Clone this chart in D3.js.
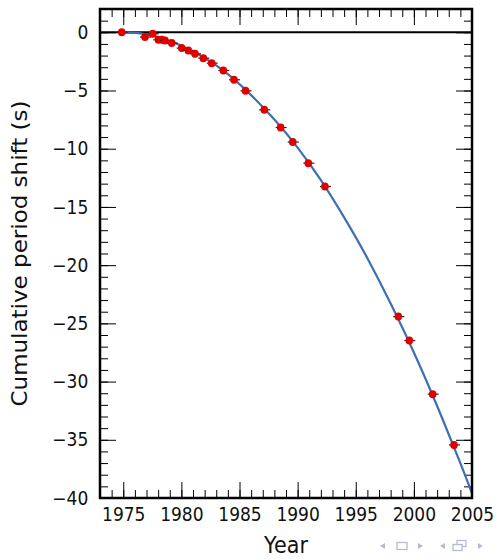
<!DOCTYPE html>
<html>
<head>
<meta charset="utf-8">
<script src="https://cdn.jsdelivr.net/npm/d3@7"></script>
<style>
  body { margin: 0; background: #fff; }
  text { font-family: "DejaVu Sans", sans-serif; fill: #111; }
</style>
</head>
<body>
<div id="chart"></div>
<script>
// GR prediction curve
var curveYears = [1974.8, 1976, 1977, 1978, 1979, 1980, 1982, 1984, 1986, 1988, 1990, 1992, 1994, 1996, 1998, 2000, 2002, 2004, 2005];
var curveShift = [0.0, -0.05, -0.18, -0.42, -0.75, -1.15, -2.2, -3.6, -5.4, -7.5, -9.9, -12.7, -15.9, -19.4, -23.3, -27.5, -32.1, -37.0, -39.6];
// observed points
var obsYears = [1974.87, 1976.87, 1977.53, 1978.02, 1978.31, 1978.59, 1979.17, 1980.03, 1980.60, 1981.17, 1981.89, 1982.61, 1983.61, 1984.53, 1985.52, 1987.13, 1988.54, 1989.58, 1990.92, 1992.35, 1998.66, 1999.61, 2001.62, 2003.45];
var obsShift = [0.0, -0.41, -0.13, -0.64, -0.64, -0.70, -0.93, -1.36, -1.56, -1.85, -2.22, -2.65, -3.28, -4.08, -5.03, -6.66, -8.18, -9.43, -11.24, -13.25, -24.42, -26.48, -31.08, -35.44];
// ticks
var xTicks = [1975, 1980, 1985, 1990, 1995, 2000, 2005];
var yTicks = [0, -5, -10, -15, -20, -25, -30, -35, -40];
var xMinor = d3.range(1973, 2006, 1);
var yMinor = d3.range(-40, 3, 1);

var svgWidth = 498, svgHeight = 559;
var margin = {top: 9, right: 26, bottom: 61, left: 100};
var width = svgWidth - margin.left - margin.right;
var height = svgHeight - margin.top - margin.bottom;
var squeeze = "scale(0.9,1)";

var svg = d3.select("#chart").append("svg")
    .attr("width", svgWidth)
    .attr("height", svgHeight);

var x = d3.scaleLinear().domain([1973, 2005]).range([margin.left, margin.left + width]);
var y = d3.scaleLinear().domain([-40, 2]).range([margin.top + height, margin.top]);

// ticks on all four sides, pointing in
function addAxis(axis, tx, ty, labels) {
    var g = svg.append("g")
        .attr("transform", `translate(${tx},${ty})`)
        .call(axis);
    g.select(".domain").remove();
    g.selectAll(".tick line").attr("stroke", "#000").attr("stroke-width", 1);
    if (!labels) g.selectAll("text").remove();
    else g.selectAll("text").attr("font-size", 19).attr("transform", squeeze).attr("fill", "#111");
    return g;
}
var bottom = margin.top + height, right = margin.left + width;
addAxis(d3.axisBottom(x).tickValues(xMinor).tickSize(-8), 0, bottom, false);
addAxis(d3.axisBottom(x).tickValues(xTicks).tickSize(-16).tickPadding(10).tickFormat(d3.format("d")), 0, bottom, true);
addAxis(d3.axisTop(x).tickValues(xMinor).tickSize(-8), 0, margin.top, false);
addAxis(d3.axisTop(x).tickValues(xTicks).tickSize(-16), 0, margin.top, false);
addAxis(d3.axisLeft(y).tickValues(yMinor).tickSize(-8), margin.left, 0, false);
addAxis(d3.axisLeft(y).tickValues(yTicks).tickSize(-16).tickPadding(13), margin.left, 0, true);
addAxis(d3.axisRight(y).tickValues(yMinor).tickSize(-8), right, 0, false);
addAxis(d3.axisRight(y).tickValues(yTicks).tickSize(-16), right, 0, false);

// zero line
svg.append("line")
    .attr("x1", margin.left).attr("x2", right)
    .attr("y1", y(0)).attr("y2", y(0))
    .attr("stroke", "#000").attr("stroke-width", 2);

// prediction curve
var curveData = curveYears.map((d, i) => [d, curveShift[i]]);
svg.append("path")
    .datum(curveData)
    .attr("fill", "none")
    .attr("stroke", "#3d6fb2")
    .attr("stroke-width", 2.2)
    .attr("d", d3.line().x(d => x(d[0])).y(d => y(d[1])).curve(d3.curveNatural));

// observed points
var obs = obsYears.map((d, i) => [d, obsShift[i]]);
var pts = svg.append("g").selectAll("g").data(obs).enter().append("g")
    .attr("transform", d => `translate(${x(d[0])},${y(d[1])})`);
pts.append("line")
    .attr("x1", -5).attr("x2", 6)
    .attr("stroke", "#222").attr("stroke-width", 1.2);
pts.append("ellipse")
    .attr("rx", 3.8).attr("ry", 4)
    .attr("fill", "#e00000");

// frame
svg.append("rect")
    .attr("x", margin.left).attr("y", margin.top)
    .attr("width", width).attr("height", height)
    .attr("fill", "none").attr("stroke", "#000").attr("stroke-width", 2.5);

// axis titles
svg.append("text")
    .attr("transform", `translate(${margin.left + width / 2},553) ${squeeze}`)
    .attr("text-anchor", "middle")
    .attr("font-size", 23)
    .text("Year");
svg.append("text")
    .attr("transform", `translate(27,${margin.top + height / 2}) ${squeeze} rotate(-90)`)
    .attr("text-anchor", "middle")
    .attr("font-size", 23)
    .text("Cumulative period shift (s)");

// beamer navigation symbols
var nav = svg.append("g").attr("fill", "#b4bcd4").attr("stroke", "#b4bcd4");
nav.append("path").attr("d", "M380,546 l5,-3 v6 z").attr("stroke", "none");
nav.append("rect").attr("x", 397).attr("y", 542.5).attr("width", 10).attr("height", 7).attr("fill", "none").attr("stroke-width", 1.3);
nav.append("path").attr("d", "M423,546 l-5,-3 v6 z").attr("stroke", "none");
nav.append("path").attr("d", "M440,546 l5,-3 v6 z").attr("stroke", "none");
nav.append("rect").attr("x", 457).attr("y", 540.5).attr("width", 9).attr("height", 6).attr("fill", "#fff").attr("stroke-width", 1.3);
nav.append("rect").attr("x", 453).attr("y", 544.5).attr("width", 9).attr("height", 6).attr("fill", "#fff").attr("stroke-width", 1.3);
nav.append("path").attr("d", "M483,546 l-5,-3 v6 z").attr("stroke", "none");
</script>
</body>
</html>
